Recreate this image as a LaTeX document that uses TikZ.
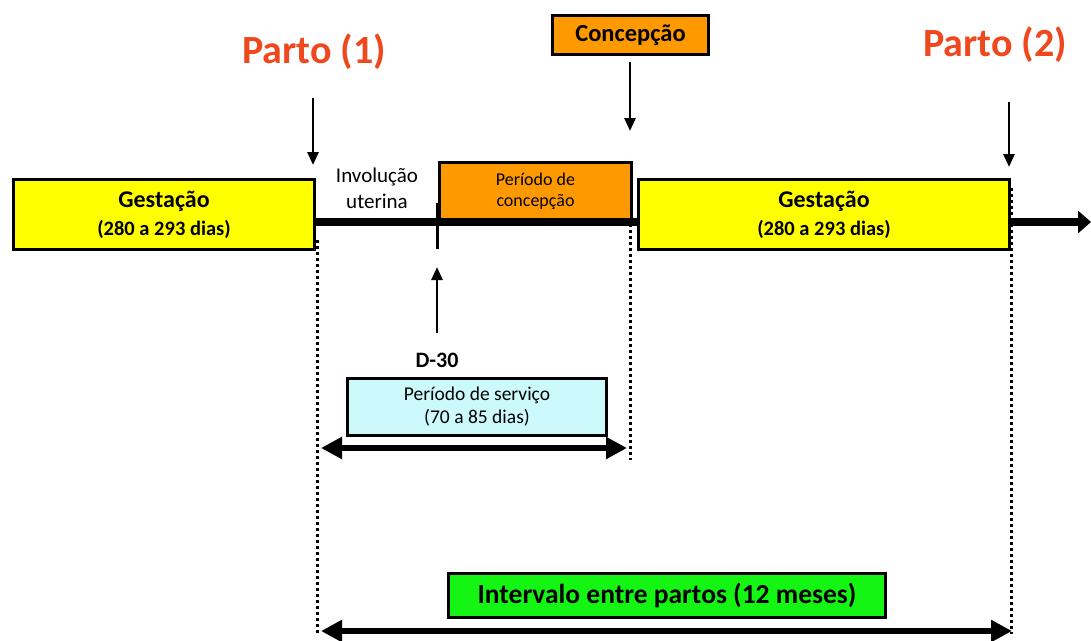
\documentclass[tikz,border=0pt]{standalone}
\usepackage{fontspec}
\setmainfont{Carlito}
\usetikzlibrary{arrows.meta}
\definecolor{partored}{RGB}{240,72,30}
\definecolor{gestyellow}{RGB}{255,255,0}
\definecolor{concorange}{RGB}{255,153,0}
\definecolor{servcyan}{RGB}{204,250,252}
\definecolor{ipgreen}{RGB}{20,245,20}
\begin{document}
\begin{tikzpicture}[x=1pt,y=-1pt,
  box/.style={draw=black, line width=3pt, anchor=north west, inner sep=0pt, align=center},
  thinarrow/.style={line width=2.7pt, -{Triangle[length=13pt,width=11pt]}},
  bigarrow/.style={line width=6.5pt, {Triangle[length=21pt,width=21pt]}-{Triangle[length=21pt,width=21pt]}},
  guide/.style={line width=3pt, dash pattern=on 3pt off 3pt},
  parto/.style={text=partored, font=\bfseries\fontsize{40}{48}\selectfont, inner sep=0pt},
  ]
\useasboundingbox (0,0) rectangle (1091,640);

% time axis
\coordinate (axstart) at (313,222);
\coordinate (axend) at (1091,222);
\draw[line width=8pt, -{Triangle[length=13pt,width=22pt]}] (axstart) -- (axend);

% vertical dotted guides
\coordinate (gAtop) at (317,240);
\coordinate (gAbot) at (317,634);
\coordinate (gBtop) at (630,212);
\coordinate (gBbot) at (630,460);
\coordinate (gCtop) at (1011,188);
\coordinate (gCbot) at (1011,634);
\draw[guide] (gAtop) -- (gAbot);
\draw[guide] (gBtop) -- (gBbot);
\draw[guide] (gCtop) -- (gCbot);

% gestation boxes
\node[box, fill=gestyellow, minimum width=301pt, minimum height=70pt,
      font=\bfseries\fontsize{20.5}{28}\selectfont] (g1) at (12,178)
  {{\fontsize{24}{28}\selectfont Gestação}\\(280 a 293 dias)};
\node[box, fill=gestyellow, minimum width=371pt, minimum height=70pt,
      font=\bfseries\fontsize{20.5}{28}\selectfont] (g2) at (637,178)
  {{\fontsize{24}{28}\selectfont Gestação}\\(280 a 293 dias)};

% conception period
\node[box, fill=concorange, minimum width=192pt, minimum height=57pt,
      font=\fontsize{18}{21}\selectfont] (pc) at (438,161)
  {Período de\\concepção};
\node[box, fill=concorange, minimum width=156pt, minimum height=39pt,
      font=\bfseries\fontsize{24.5}{28}\selectfont] (conc) at (551,14) {Concepção};

% uterine involution label
\node[align=center, inner sep=0pt, font=\fontsize{21}{26}\selectfont] (inv) at (377,188)
  {Involução\\uterina};

% D-30 mark
\coordinate (tickA) at (437,203);
\coordinate (tickB) at (437,249);
\draw[line width=3pt] (tickA) -- (tickB);
\node[inner sep=0pt, font=\bfseries\fontsize{22}{26}\selectfont] (d30) at (437,360) {D-30};
\coordinate (d30a) at (437,333);
\coordinate (d30b) at (437,267);
\draw[thinarrow] (d30a) -- (d30b);

% service period
\node[box, fill=servcyan, minimum width=259pt, minimum height=57pt,
      font=\fontsize{19.5}{23}\selectfont] (serv) at (346,377)
  {Período de serviço\\(70 a 85 dias)};
\coordinate (servL) at (321,448);
\coordinate (servR) at (627,448);
\draw[bigarrow] (servL) -- (servR);

% calving interval
\node[box, fill=ipgreen, minimum width=437pt, minimum height=44pt,
      font=\bfseries\fontsize{27.5}{30}\selectfont] (ip) at (447,572)
  {Intervalo entre partos (12 meses)};
\coordinate (ipL) at (321,631);
\coordinate (ipR) at (1012,631);
\draw[bigarrow] (ipL) -- (ipR);

% calving labels and arrows
\node[parto] (p1) at (314,52) {Parto (1)};
\node[parto] (p2) at (995,45) {Parto (2)};
\coordinate (p1a) at (313,98);
\coordinate (p1b) at (313,165);
\draw[thinarrow] (p1a) -- (p1b);
\coordinate (p2a) at (1009,102);
\coordinate (p2b) at (1009,167);
\draw[thinarrow] (p2a) -- (p2b);
\coordinate (cca) at (630,62);
\coordinate (ccb) at (630,131);
\draw[thinarrow] (cca) -- (ccb);
\end{tikzpicture}
\end{document}
